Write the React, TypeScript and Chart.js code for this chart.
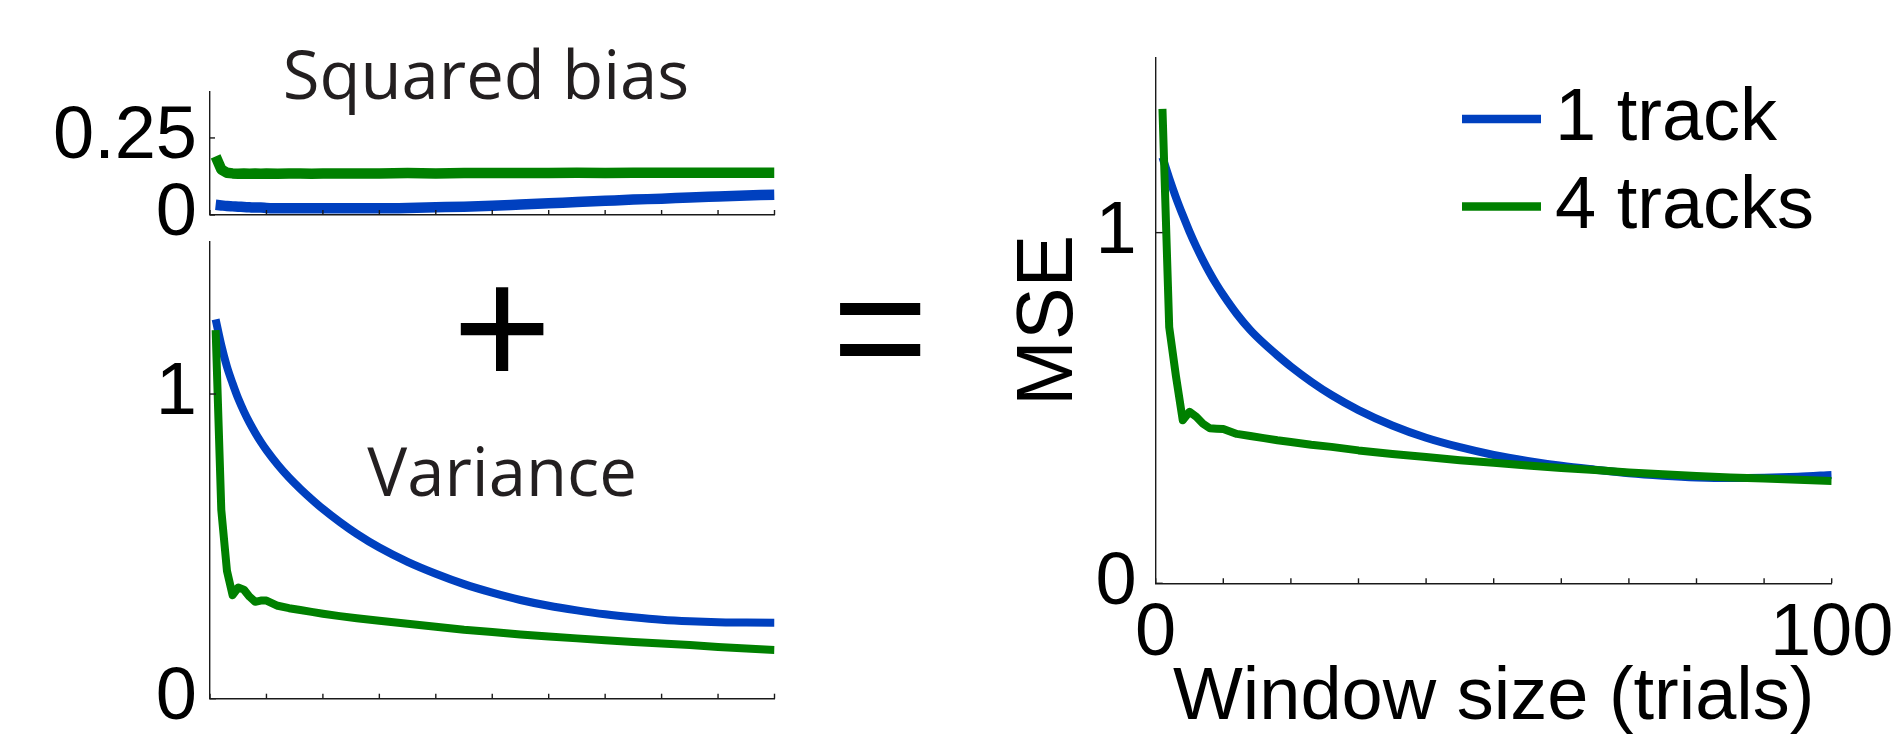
import React, { useEffect, useRef } from 'react';
import { Chart, registerables } from 'chart.js';

Chart.register(...registerables);

const W = 1896;
const H = 736;

const BLUE = '#0040BF';
const GREEN = '#008000';
const AXIS_COLOR = '#1a1a1a';
const TICK_FONT = '"Liberation Sans", Arial, Helvetica, sans-serif';
const TEXT_FONT = '"Open Sans", "Noto Sans", sans-serif';

// ---------------- data ----------------
const SERIES_LABELS = ['1 track', '4 tracks'];

const WINDOW_SIZES = [1, 2, 3, 4, 5, 6, 7, 8, 9, 10, 12, 14, 16, 18, 20, 23, 26, 30, 35, 40, 45, 50, 55, 60, 65, 70, 75, 80, 85, 90, 95, 100];

// Squared bias
const BIAS_1TRACK = [0.033, 0.031, 0.029, 0.028, 0.027, 0.026, 0.025, 0.024, 0.024, 0.023, 0.022, 0.022, 0.022, 0.022, 0.022, 0.022, 0.022, 0.022, 0.023, 0.025, 0.027, 0.03, 0.034, 0.038, 0.042, 0.046, 0.05, 0.053, 0.057, 0.06, 0.063, 0.066];
const BIAS_4TRACKS = [0.19, 0.148, 0.137, 0.135, 0.134, 0.135, 0.134, 0.135, 0.134, 0.135, 0.134, 0.135, 0.135, 0.134, 0.135, 0.135, 0.135, 0.135, 0.136, 0.135, 0.136, 0.136, 0.136, 0.136, 0.137, 0.136, 0.137, 0.137, 0.137, 0.137, 0.137, 0.137];

// Variance
const VAR_1TRACK = [1.245, 1.16, 1.09, 1.035, 0.985, 0.943, 0.906, 0.873, 0.843, 0.816, 0.768, 0.726, 0.689, 0.655, 0.623, 0.58, 0.541, 0.496, 0.449, 0.41, 0.376, 0.348, 0.324, 0.305, 0.29, 0.277, 0.267, 0.259, 0.254, 0.251, 0.25, 0.249];
const VAR_4TRACKS = [1.21, 0.62, 0.42, 0.34, 0.365, 0.358, 0.335, 0.318, 0.322, 0.322, 0.305, 0.297, 0.291, 0.285, 0.279, 0.271, 0.264, 0.256, 0.246, 0.236, 0.226, 0.219, 0.211, 0.204, 0.198, 0.192, 0.186, 0.181, 0.176, 0.17, 0.165, 0.16];

// MSE
const MSE_1TRACK = [1.215, 1.155, 1.1, 1.05, 1.003, 0.96, 0.921, 0.885, 0.852, 0.822, 0.768, 0.722, 0.684, 0.65, 0.618, 0.575, 0.537, 0.494, 0.45, 0.415, 0.388, 0.366, 0.349, 0.335, 0.324, 0.314, 0.307, 0.302, 0.3, 0.301, 0.304, 0.309];
const MSE_4TRACKS = [1.353, 0.73, 0.59, 0.465, 0.489, 0.475, 0.455, 0.442, 0.441, 0.44, 0.426, 0.42, 0.414, 0.408, 0.403, 0.395, 0.389, 0.379, 0.369, 0.36, 0.351, 0.344, 0.336, 0.329, 0.323, 0.316, 0.311, 0.306, 0.302, 0.299, 0.295, 0.292];

// ticks
const X_TICKS = [0, 10, 20, 30, 40, 50, 60, 70, 80, 90, 100];
const X_TICK_LABELS = [0, 100];
const BIAS_Y_TICKS = [0, 0.25];
const VAR_Y_TICKS = [0, 1];
const MSE_Y_TICKS = [0, 1];

// ---------------- helpers ----------------
function pts(ys: number[]) {
  return WINDOW_SIZES.map((x, i) => ({ x, y: ys[i] }));
}

function makeDatasets(a: number[], b: number[], width: number) {
  const common = {
    pointRadius: 0,
    pointHoverRadius: 0,
    tension: 0,
    borderWidth: width,
    borderJoinStyle: 'round' as const,
    borderCapStyle: 'butt' as const,
    fill: false,
  };
  return [
    { ...common, label: SERIES_LABELS[0], data: pts(a), borderColor: BLUE, backgroundColor: BLUE, order: 1, cubicInterpolationMode: 'monotone' as const },
    { ...common, label: SERIES_LABELS[1], data: pts(b), borderColor: GREEN, backgroundColor: GREEN, order: 0 },
  ];
}

function yScale(min: number, max: number, ticks: number[], width: number, pad: number) {
  return {
    type: 'linear',
    min,
    max,
    afterBuildTicks: (s: any) => {
      s.ticks = ticks.map((v) => ({ value: v }));
    },
    afterFit: (s: any) => {
      s.width = width;
      s.paddingTop = 0;
      s.paddingBottom = 0;
      s.paddingLeft = 0;
      s.paddingRight = 0;
    },
    grid: { display: false, drawTicks: false },
    border: { display: true, color: AXIS_COLOR, width: 1.4 },
    ticks: {
      padding: pad,
      color: '#000',
      font: { family: TICK_FONT, size: 74 },
      callback: (v: any) => String(v),
    },
  };
}

function xScale(height: number, showLabels: boolean, pad: number, title?: any) {
  return {
    type: 'linear',
    min: 0,
    max: 100,
    afterBuildTicks: (s: any) => {
      s.ticks = X_TICKS.map((v) => ({ value: v }));
    },
    afterFit: (s: any) => {
      s.height = height;
      s.paddingTop = 0;
      s.paddingBottom = 0;
      s.paddingLeft = 0;
      s.paddingRight = 0;
    },
    grid: { display: false, drawTicks: false },
    border: { display: true, color: AXIS_COLOR, width: 1.4 },
    ticks: {
      display: showLabels,
      autoSkip: false,
      maxRotation: 0,
      minRotation: 0,
      padding: pad,
      color: '#000',
      font: { family: TICK_FONT, size: 74 },
      callback: (v: any) => (X_TICK_LABELS.includes(Number(v)) ? String(v) : ''),
    },
    title: title || { display: false },
  };
}

function inwardTicks(xLen: number, yLen: number) {
  return {
    id: 'inwardTicks',
    afterDraw(chart: any) {
      const { ctx, chartArea, scales } = chart;
      ctx.save();
      ctx.strokeStyle = AXIS_COLOR;
      ctx.lineWidth = 1.4;
      scales.x.ticks.forEach((t: any) => {
        const px = scales.x.getPixelForValue(t.value);
        ctx.beginPath();
        ctx.moveTo(px, chartArea.bottom);
        ctx.lineTo(px, chartArea.bottom - xLen);
        ctx.stroke();
      });
      scales.y.ticks.forEach((t: any) => {
        const py = scales.y.getPixelForValue(t.value);
        ctx.beginPath();
        ctx.moveTo(chartArea.left, py);
        ctx.lineTo(chartArea.left + yLen, py);
        ctx.stroke();
      });
      ctx.restore();
    },
  };
}

type TextItem = { text: string; x: number; y: number; font: string; color: string; inkCenter?: boolean };

function textsPlugin(items: TextItem[]) {
  return {
    id: 'annotTexts',
    afterDraw(chart: any) {
      const ctx = chart.ctx;
      items.forEach((it) => {
        ctx.save();
        ctx.font = it.font;
        ctx.fillStyle = it.color;
        if (it.inkCenter) {
          ctx.textAlign = 'left';
          ctx.textBaseline = 'alphabetic';
          const m = ctx.measureText(it.text);
          const dx = it.x - (m.actualBoundingBoxRight - m.actualBoundingBoxLeft) / 2;
          const dy = it.y + (m.actualBoundingBoxAscent - m.actualBoundingBoxDescent) / 2;
          ctx.fillText(it.text, dx, dy);
        } else {
          ctx.textAlign = 'center';
          ctx.textBaseline = 'alphabetic';
          ctx.fillText(it.text, it.x, it.y);
        }
        ctx.restore();
      });
    },
  };
}

function legendPlugin(cfg: { x: number; y: number; rowGap: number; lineLen: number; gap: number; lineWidth: number }) {
  return {
    id: 'lineLegend',
    afterDraw(chart: any) {
      const ctx = chart.ctx;
      ctx.save();
      ctx.font = `74px ${TICK_FONT}`;
      ctx.textAlign = 'left';
      ctx.textBaseline = 'middle';
      chart.data.datasets.forEach((ds: any, i: number) => {
        const y = cfg.y + i * cfg.rowGap;
        ctx.strokeStyle = ds.borderColor;
        ctx.lineWidth = cfg.lineWidth;
        ctx.lineCap = 'butt';
        ctx.beginPath();
        ctx.moveTo(cfg.x, y);
        ctx.lineTo(cfg.x + cfg.lineLen, y);
        ctx.stroke();
        ctx.fillStyle = '#000';
        ctx.fillText(ds.label, cfg.x + cfg.lineLen + cfg.gap, y + 1);
      });
      ctx.restore();
    },
  };
}

const baseOptions = {
  animation: false,
  responsive: false,
  maintainAspectRatio: false,
  events: [],
  plugins: { legend: { display: false }, tooltip: { enabled: false }, title: { display: false } },
};

function biasConfig(): any {
  return {
    type: 'line',
    data: { datasets: makeDatasets(BIAS_1TRACK, BIAS_4TRACKS, 10.5) },
    options: {
      ...baseOptions,
      layout: { padding: { left: 0, top: 91.7, right: W - 774.5, bottom: H - 215 - 20 } },
      scales: {
        x: xScale(20, false, 0),
        y: yScale(0, 0.4, BIAS_Y_TICKS, 210, 13),
      },
    },
    plugins: [
      inwardTicks(5, 5),
      textsPlugin([{ text: 'Squared bias', x: 486, y: 99, font: `67px ${TEXT_FONT}`, color: '#231f20' }]),
    ],
  };
}

function varianceConfig(): any {
  return {
    type: 'line',
    data: { datasets: makeDatasets(VAR_1TRACK, VAR_4TRACKS, 8) },
    options: {
      ...baseOptions,
      layout: { padding: { left: 0, top: 241.7, right: W - 774.5, bottom: H - 698.7 - 20 } },
      scales: {
        x: xScale(20, false, 0),
        y: yScale(0, 1.5, VAR_Y_TICKS, 210, 13),
      },
    },
    plugins: [
      inwardTicks(5, 6),
      textsPlugin([
        { text: 'Variance', x: 502, y: 496, font: `67px ${TEXT_FONT}`, color: '#231f20' },
        { text: '+', x: 502, y: 329, font: `170px ${TICK_FONT}`, color: '#000', inkCenter: true },
      ]),
    ],
  };
}

function mseConfig(): any {
  return {
    type: 'line',
    data: { datasets: makeDatasets(MSE_1TRACK, MSE_4TRACKS, 8) },
    options: {
      ...baseOptions,
      layout: { padding: { left: 955.7, top: 57.3, right: W - 1831.7, bottom: 0 } },
      scales: {
        x: xScale(H - 583.3, true, 7, {
          display: true,
          text: 'Window size (trials)',
          color: '#000',
          font: { family: TICK_FONT, size: 74, lineHeight: 1 },
          padding: { top: 0, bottom: 0 },
        }),
        y: {
          ...yScale(0, 1.5, MSE_Y_TICKS, 200, 19),
          title: {
            display: true,
            text: 'MSE',
            color: '#000',
            font: { family: TICK_FONT, size: 79, lineHeight: 1 },
            padding: { top: 55, bottom: 0 },
          },
        },
      },
    },
    plugins: [
      inwardTicks(5, 7),
      legendPlugin({ x: 1462, y: 119, rowGap: 87.5, lineLen: 79, gap: 14, lineWidth: 8.3 }),
      textsPlugin([{ text: '=', x: 880.5, y: 329.5, font: `165px ${TICK_FONT}`, color: '#000', inkCenter: true }]),
    ],
  };
}

export default function App() {
  const biasRef = useRef<HTMLCanvasElement>(null);
  const varRef = useRef<HTMLCanvasElement>(null);
  const mseRef = useRef<HTMLCanvasElement>(null);

  useEffect(() => {
    const charts: Chart[] = [];
    if (biasRef.current) charts.push(new Chart(biasRef.current, biasConfig()));
    if (varRef.current) charts.push(new Chart(varRef.current, varianceConfig()));
    if (mseRef.current) charts.push(new Chart(mseRef.current, mseConfig()));
    return () => charts.forEach((c) => c.destroy());
  }, []);

  const canvasStyle: React.CSSProperties = { position: 'absolute', left: 0, top: 0, width: W, height: H };

  return (
    <div style={{ position: 'fixed', left: 0, top: 0, width: W, height: H, background: '#fff', overflow: 'hidden' }}>
      <canvas ref={biasRef} width={W} height={H} style={canvasStyle} />
      <canvas ref={varRef} width={W} height={H} style={canvasStyle} />
      <canvas ref={mseRef} width={W} height={H} style={canvasStyle} />
    </div>
  );
}
